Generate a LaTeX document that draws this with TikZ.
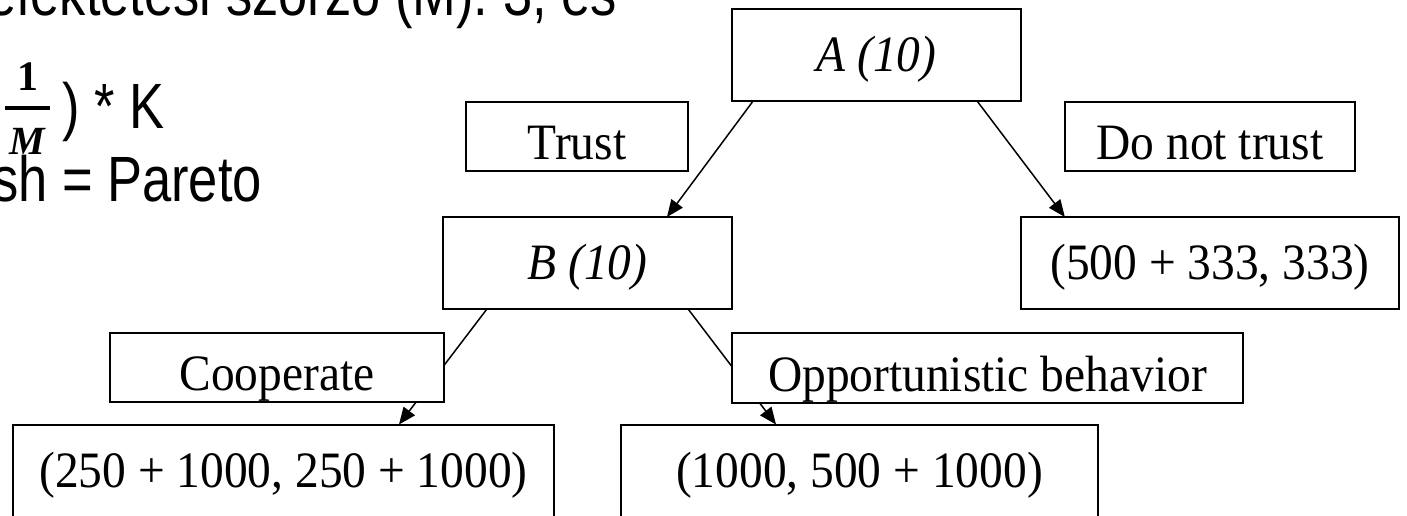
\documentclass[tikz,border=0pt]{standalone}
\usepackage{fontspec}
\newfontfamily\tnr[FakeStretch=0.93]{Liberation Serif}
\newfontfamily\frc{Liberation Serif}
\newfontfamily\arl[FakeStretch=0.82]{Liberation Sans}
\usetikzlibrary{arrows.meta,calc,backgrounds}
\tikzset{
  box/.style={draw=black, line width=1pt, fill=white, inner sep=0pt, outer sep=0pt,
    font=\tnr\fontsize{25.5}{30}\selectfont, text height=16.9pt, text depth=0pt},
  lbl/.style={box, text height=23.4pt, minimum height=34.5pt},
  big/.style={box, minimum height=46pt},
  conn/.style={line width=0.75pt, -{Triangle[length=8.5pt,width=7pt]}},
  slide/.style={font=\arl\fontsize{32}{38}\selectfont, inner sep=0pt, outer sep=0pt},
  fracpart/.style={inner sep=0pt, outer sep=0pt, font=\frc\bfseries\fontsize{21}{25}\selectfont},
}
\begin{document}
\begin{tikzpicture}[x=0.5pt, y=-0.5pt]
\useasboundingbox (0,0) rectangle (1407,515);
\clip (0,0) rectangle (1407,515);
% background slide text (cut off at the edges)
\node[slide, anchor=base east] (l1) at (617,15) {befektetési szorzó (M): 3, és};
\node[slide, anchor=base west] (l2) at (62,128) {) * K};
\node[slide, anchor=base east] (l3) at (262,201) {Nash = Pareto};
\node[fracpart, anchor=base] (num) at (28,90) {1};
\node[fracpart, anchor=base, font=\frc\bfseries\itshape\fontsize{20}{24}\selectfont] (den) at (27,154) {M};
\draw[line width=2.2pt] ($(num.base)+(-23,18)$) coordinate (fb1) -- ++(45,0) coordinate (fb2);
% game tree
\node[big, minimum width=144.5pt] (A) at (876.5,55) {\itshape A (10)};
\node[lbl, minimum width=111pt] (trust) at (577,136.5) {Trust};
\node[lbl, minimum width=145pt] (dnt) at (1210,136.5) {Do not trust};
\node[big, minimum width=144.5pt] (B) at (587.5,263) {\itshape B (10)};
\node[big, minimum width=189pt] (R3) at (1210,263) {(500 + 333, 333)};
\node[lbl, minimum width=167pt] (coop) at (277,367.5) {Cooperate};
\node[lbl, minimum width=255.5pt, minimum height=35pt] (opp) at (987.5,368) {Opportunistic behavior};
\node[big, minimum width=270.5pt] (R1) at (283.5,470.5) {(250 + 1000, 250 + 1000)};
\node[big, minimum width=238.5pt] (R2) at (859.5,470.5) {(1000, 500 + 1000)};
\begin{scope}[on background layer]
\draw[conn] ($(A.south west)!0.073!(A.south east)$) -- ($(B.north west)!0.775!(B.north east)$);
\draw[conn] ($(A.south west)!0.848!(A.south east)$) -- ($(R3.north west)!0.116!(R3.north east)$);
\draw[conn] ($(B.south west)!0.152!(B.south east)$) -- ($(R1.north west)!0.7135!(R1.north east)$);
\draw[conn] ($(B.south west)!0.848!(B.south east)$) -- ($(R2.north west)!0.325!(R2.north east)$);
\end{scope}
\end{tikzpicture}
\end{document}
